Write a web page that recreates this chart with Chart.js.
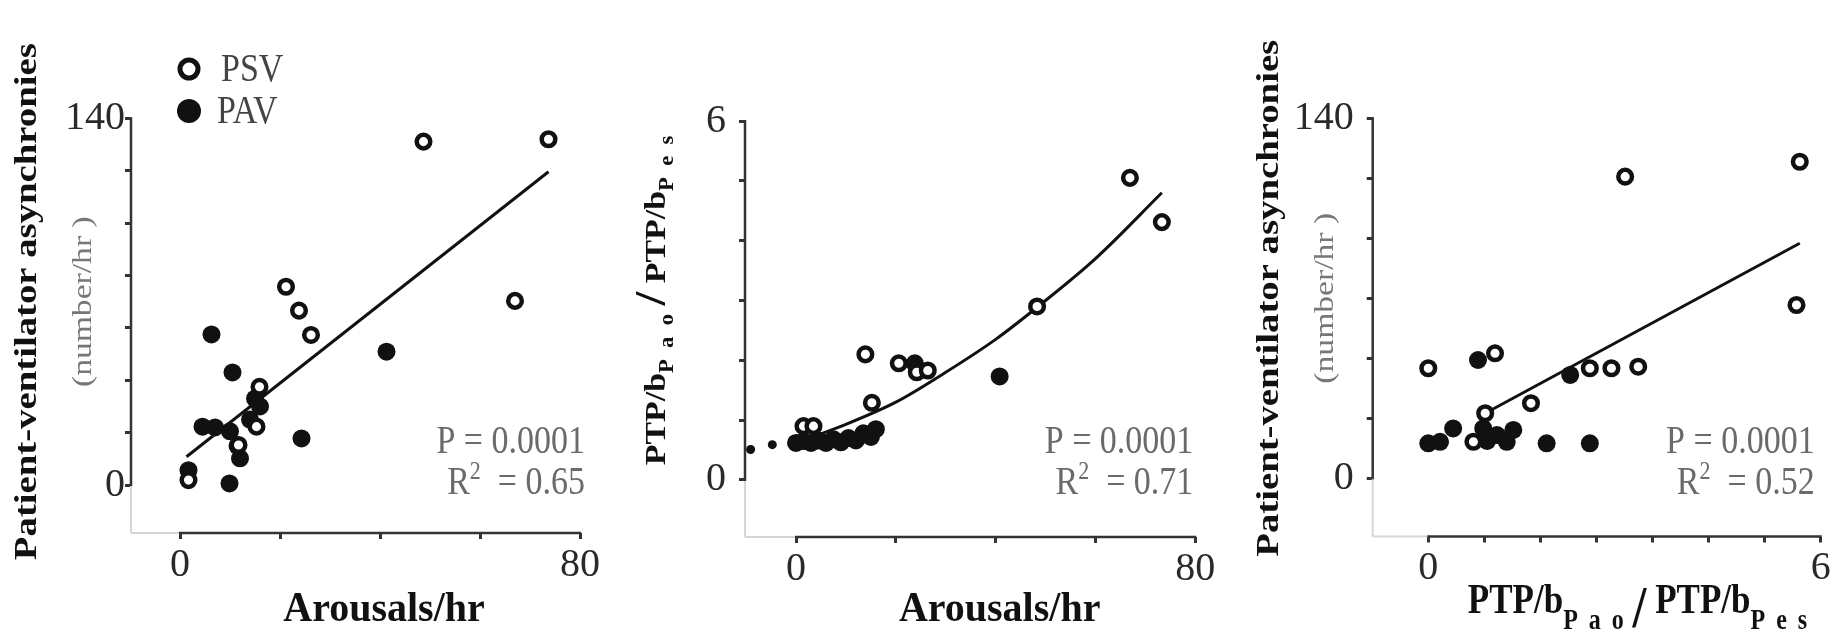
<!DOCTYPE html>
<html>
<head>
<meta charset="utf-8">
<script src="https://cdn.jsdelivr.net/npm/chart.js@4.4.1/dist/chart.umd.min.js"></script>
<style>
  html, body { margin: 0; padding: 0; background: #fff; }
  #wrap { position: relative; width: 1845px; height: 639px; overflow: hidden; }
  .panel { position: absolute; top: 0; width: 615px; height: 639px; }
</style>
</head>
<body>
<div id="wrap">
  <div class="panel" style="left:0"><canvas id="c1" width="615" height="639"></canvas></div>
  <div class="panel" style="left:615px"><canvas id="c2" width="615" height="639"></canvas></div>
  <div class="panel" style="left:1230px"><canvas id="c3" width="615" height="639"></canvas></div>
</div>
<script>
// --- panel A: asynchronies vs arousals ---
const psvArousalsA = [48.7, 73.7, 21.2, 23.8, 26.2, 67.0, 15.9, 1.7, 15.3, 11.7];
const psvAsyncA    = [131.1, 132.0, 75.7, 66.6, 57.3, 70.3, 37.5, 1.9, 22.3, 15.3];
const pavArousalsA = [6.3, 10.5, 41.3, 24.3, 9.9, 1.7, 4.5, 7, 10, 12, 11.5, 14, 16, 15];
const pavAsyncA    = [57.5, 43.0, 50.9, 17.8, 0.6, 5.7, 22.3, 22, 20.5, 10.2, 15, 25, 30, 33];
const fitXA = [1.3, 73.7];
const fitYA = [10.8, 119.6];

// --- panel B: PTP ratio vs arousals ---
const psvArousalsB = [66.9, 73.3, 48.3, 13.9, 20.6, 24.2, 26.4, 15.2, 1.5, 3.5];
const psvRatioB    = [5.05, 4.31, 2.9, 2.1, 1.95, 1.8, 1.83, 1.29, 0.9, 0.9];
const pavArousalsB = [23.8, 40.8, 0, 1.5, 3, 4.5, 6, 7.5, 9, 10.5, 12, 13.5, 15, 16];
const pavRatioB    = [1.95, 1.73, 0.62, 0.65, 0.62, 0.66, 0.62, 0.68, 0.63, 0.7, 0.66, 0.78, 0.72, 0.85];
const strayXB = [-4.75, -9.1];
const strayYB = [0.59, 0.51];
const fitXB = [0, 10, 20, 30, 40, 50, 60, 73.3];
const fitYB = [0.62, 0.93, 1.3, 1.8, 2.35, 3.0, 3.7, 4.8];

// --- panel C: asynchronies vs PTP ratio ---
const psvRatioC = [5.68, 3.01, 5.63, 0, 1.02, 2.47, 2.80, 3.21, 1.57, 0.87, 0.69];
const psvAsyncC = [123.1, 117.3, 67.4, 42.8, 48.6, 42.8, 42.8, 43.4, 29.2, 25.3, 14.2];
const pavRatioC = [0.76, 2.17, 1.81, 2.47, 0, 0.18, 0.38, 0.84, 1.05, 1.3, 1.2, 0.9];
const pavAsyncC = [46.0, 40.2, 13.6, 13.6, 13.6, 14.2, 19.4, 19.4, 16.8, 18.8, 14.2, 14.5];
const fitXC = [0.87, 5.68];
const fitYC = [25.3, 91.4];

// ticks
const ticksArousals = [0, 20, 40, 60, 80];
const labelsArousals = ['0', '', '', '', '80'];
const ticksAsyncA = [0, 20, 40, 60, 80, 100, 120, 140];
const labelsAsyncA = ['0', '', '', '', '', '', '', '140'];
const ticksRatioB = [0, 1, 2, 3, 4, 5, 6];
const labelsRatioB = ['0', '', '', '', '', '', '6'];
const ticksRatioC = [0, 0.857, 1.714, 2.571, 3.429, 4.286, 5.143, 6];
const labelsRatioC = ['0', '', '', '', '', '', '', '6'];
const ticksAsyncC = [0, 23.3, 46.7, 70, 93.3, 116.7, 140];
const labelsAsyncC = ['0', '', '', '', '', '', '140'];

const pValues = ['0.0001', '0.0001', '0.0001'];
const r2Values = ['0.65', '0.71', '0.52'];

const serif = '"Liberation Serif", "Times New Roman", serif';
const font = (size, bold) => (bold ? 'bold ' : '') + size + 'px ' + serif;
const zip = (xs, ys) => xs.map((x, i) => ({ x, y: ys[i] }));

function line(ctx, x1, y1, x2, y2) {
  ctx.beginPath(); ctx.moveTo(x1, y1); ctx.lineTo(x2, y2); ctx.stroke();
}

// draws a row of text pieces (for subscripts / superscripts), optionally rotated and stretched
function drawRun(ctx, x, y, segs, o) {
  ctx.save();
  ctx.translate(x, y);
  ctx.scale(1, o.sy || 1);
  if (o.rot) ctx.rotate(o.rot);
  ctx.textBaseline = 'alphabetic';
  ctx.textAlign = 'left';
  const widthOf = s => {
    ctx.font = s.font;
    if (!s.ls) return ctx.measureText(s.t).width;
    return [...s.t].reduce((w, c) => w + ctx.measureText(c).width + s.ls, 0) - s.ls;
  };
  const widths = segs.map(widthOf);
  const total = widths.reduce((a, b) => a + b, 0);
  let cx = o.align === 'center' ? -total / 2 : o.align === 'right' ? -total : 0;
  segs.forEach((s, i) => {
    ctx.font = s.font;
    ctx.fillStyle = s.color || o.color;
    if (s.ls) {
      let px = cx;
      for (const c of s.t) { ctx.fillText(c, px, s.dy || 0); px += ctx.measureText(c).width + s.ls; }
    } else {
      ctx.fillText(s.t, cx, s.dy || 0);
    }
    cx += widths[i];
  });
  ctx.restore();
}

const ptpTitle = (main, sub, ls, dy, slash, slashDy) => [
  { t: 'PTP/b', font: font(main, true) },
  { t: 'Pao', font: font(sub, true), ls, dy },
  { t: ' ', font: font(main, true) },
  { t: '/', font: font(slash, true), dy: slashDy },
  { t: ' ', font: font(main, true) },
  { t: 'PTP/b', font: font(main, true) },
  { t: 'Pes', font: font(sub, true), ls, dy }
];

const decor = {
  id: 'decor',
  beforeDatasetsDraw(chart, args, o) {
    const { ctx, chartArea: a, scales: { x, y } } = chart;
    const x0 = x.getPixelForValue(0), y0 = y.getPixelForValue(0);
    ctx.save();
    ctx.strokeStyle = '#d6d6d6'; ctx.lineWidth = 2;
    line(ctx, a.left, y0, a.left, a.bottom);
    line(ctx, a.left, a.bottom, x0, a.bottom);
    ctx.strokeStyle = '#333'; ctx.lineWidth = 2.5;
    line(ctx, a.left, a.top - 1, a.left, y0 + 1);
    line(ctx, x0 - 1, a.bottom, a.right + 1, a.bottom);
    ctx.restore();
  },
  afterDatasetsDraw(chart, args, o) {
    const { ctx, scales: { x, y } } = chart;
    const y0 = y.getPixelForValue(0), yTop = y.getPixelForValue(y.max);
    const x0 = x.getPixelForValue(0), xEnd = x.getPixelForValue(x.max);
    const axisX = chart.chartArea.left;
    const midY = (y0 + yTop) / 2, midX = (x0 + xEnd) / 2;

    // y titles
    if (o.yTitle === 'async') {
      drawRun(ctx, axisX - 95, midY, [{ t: 'Patient-ventilator asynchronies', font: font(31, true) }],
        { rot: -Math.PI / 2, sy: 1.25, align: 'center', color: '#111' });
      drawRun(ctx, axisX - 40, midY, [{ t: '(number/hr )', font: font(28) }],
        { rot: -Math.PI / 2, sy: 1.2, align: 'center', color: '#777' });
    } else {
      drawRun(ctx, axisX - 80, midY, ptpTitle(30, 20, 10, 8, 44, 0),
        { rot: -Math.PI / 2, sy: 1.13, align: 'center', color: '#111' });
    }

    // x titles
    if (o.xTitle === 'arousals') {
      drawRun(ctx, midX + 4, 621, [{ t: 'Arousals/hr', font: font(40, true) }],
        { sy: 1.05, align: 'center', color: '#111' });
    } else {
      drawRun(ctx, midX + 13, 613, ptpTitle(35, 24, 11, 13, 50, 12),
        { sy: 1.2, align: 'center', color: '#111' });
    }

    // stats
    const sx = xEnd + o.statsDx;
    drawRun(ctx, sx, 453, [{ t: 'P = ' + pValues[o.idx], font: font(34) }],
      { sy: 1.15, align: 'right', color: '#6a6a6a' });
    drawRun(ctx, sx, 494, [
      { t: 'R', font: font(34) },
      { t: '2', font: font(22), dy: -13 },
      { t: '  = ' + r2Values[o.idx], font: font(34) }
    ], { sy: 1.15, align: 'right', color: '#6a6a6a' });

    // legend
    if (o.legend) {
      ctx.save();
      ctx.fillStyle = '#fff'; ctx.strokeStyle = '#111'; ctx.lineWidth = 5;
      ctx.beginPath(); ctx.arc(189, 69, 9, 0, Math.PI * 2); ctx.fill(); ctx.stroke();
      ctx.fillStyle = '#111';
      ctx.beginPath(); ctx.arc(189, 111, 12, 0, Math.PI * 2); ctx.fill();
      ctx.restore();
      drawRun(ctx, 221, 81, [{ t: 'PSV', font: font(34) }], { sy: 1.15, color: '#444' });
      drawRun(ctx, 217, 123, [{ t: 'PAV', font: font(34) }], { sy: 1.15, color: '#444' });
    }
  }
};

const openStyle = { backgroundColor: '#fff', borderColor: '#111', borderWidth: 4.5, pointRadius: 6.8, pointHoverRadius: 6.8, clip: false };
const fillStyle = { backgroundColor: '#111', borderColor: '#111', borderWidth: 0, pointRadius: 9, pointHoverRadius: 9, clip: false };

function makeAxis(min, max, ticks, labels, size, tickPad) {
  return {
    type: 'linear', min, max,
    afterBuildTicks: s => { s.ticks = ticks.map(v => ({ value: v })); },
    afterFit: s => { if (s.isHorizontal()) s.height = size; else s.width = size; },
    grid: { drawOnChartArea: false, drawTicks: true, tickLength: 6, tickWidth: 3, tickColor: '#333', color: '#333' },
    border: { display: false },
    ticks: {
      autoSkip: false, maxRotation: 0, padding: tickPad, color: '#2a2a2a',
      font: { family: serif, size: 40 },
      callback: (v, i) => labels[i] ?? ''
    }
  };
}

function panel(id, p) {
  const datasets = [
    { label: 'PSV', data: zip(p.psvX, p.psvY), ...openStyle, order: 0 },
    { label: 'PAV', data: zip(p.pavX, p.pavY), ...fillStyle, order: 1 }
  ];
  if (p.strayX) datasets.push({ label: 'PAV', data: zip(p.strayX, p.strayY), ...fillStyle, pointRadius: 4.5, order: 1 });
  datasets.push({
    label: 'fit', data: zip(p.fitX, p.fitY), showLine: true, borderColor: '#111', borderWidth: 3,
    pointRadius: 0, tension: p.curve ? 0.4 : 0, cubicInterpolationMode: p.curve ? 'monotone' : 'default',
    order: 2, clip: false
  });
  return new Chart(document.getElementById(id), {
    type: 'scatter',
    data: { datasets },
    options: {
      responsive: false, animation: false, devicePixelRatio: 1, events: [],
      layout: { padding: { left: 0, top: p.top, right: 615 - p.right, bottom: 0 } },
      scales: {
        x: makeAxis(p.xMin, p.xMax, p.xTicks, p.xLabels, 639 - p.bottom, 2),
        y: makeAxis(p.yMin, p.yMax, p.yTicks, p.yLabels, p.left, p.yPad)
      },
      plugins: {
        legend: { display: false }, tooltip: { enabled: false },
        decor: p.decor
      }
    },
    plugins: [decor]
  });
}

panel('c1', {
  psvX: psvArousalsA, psvY: psvAsyncA, pavX: pavArousalsA, pavY: pavAsyncA, fitX: fitXA, fitY: fitYA,
  left: 131, right: 580, top: 118.3, bottom: 533,
  xMin: -9.8, xMax: 80, yMin: -18.3, yMax: 140,
  xTicks: ticksArousals, xLabels: labelsArousals, yTicks: ticksAsyncA, yLabels: labelsAsyncA, yPad: 0,
  decor: { idx: 0, yTitle: 'async', xTitle: 'arousals', legend: true, statsDx: 5 }
});

panel('c2', {
  psvX: psvArousalsB, psvY: psvRatioB, pavX: pavArousalsB, pavY: pavRatioB, strayX: strayXB, strayY: strayYB,
  fitX: fitXB, fitY: fitYB, curve: true,
  left: 130, right: 580.3, top: 121, bottom: 537,
  xMin: -10.22, xMax: 80, yMin: -0.953, yMax: 6,
  xTicks: ticksArousals, xLabels: labelsArousals, yTicks: ticksRatioB, yLabels: labelsRatioB, yPad: 13,
  decor: { idx: 1, yTitle: 'ptp', xTitle: 'arousals', legend: false, statsDx: -2 }
});

panel('c3', {
  psvX: psvRatioC, psvY: psvAsyncC, pavX: pavRatioC, pavY: pavAsyncC, fitX: fitXC, fitY: fitYC,
  left: 142.7, right: 590.7, top: 118.3, bottom: 536.5,
  xMin: -0.85, xMax: 6, yMin: -22.64, yMax: 140,
  xTicks: ticksRatioC, xLabels: labelsRatioC, yTicks: ticksAsyncC, yLabels: labelsAsyncC, yPad: 13,
  decor: { idx: 2, yTitle: 'async', xTitle: 'ptp', legend: false, statsDx: -6 }
});
</script>
</body>
</html>
